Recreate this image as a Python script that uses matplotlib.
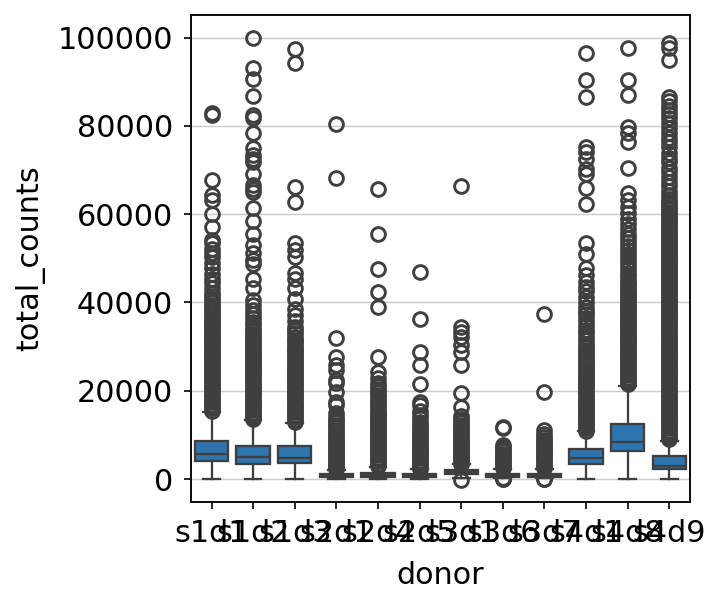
import matplotlib.pyplot as plt

donors = ["s1d1", "s1d2", "s1d3", "s2d1", "s2d4", "s2d5",
          "s3d1", "s3d6", "s3d7", "s4d1", "s4d8", "s4d9"]

# box summary (counts)
q1 = [4010, 3490, 3710, 400, 500, 450, 1100, 400, 400, 3490, 6270, 2350]
medians = [5660, 4910, 4840, 700, 950, 750, 1550, 800, 750, 4750, 8470, 3030]
q3 = [8540, 7470, 7400, 1100, 1450, 1150, 2050, 1250, 1200, 6880, 12540, 5140]
whisk_lo = [0, 0, 0, 0, 0, 0, 200, 300, 300, 0, 0, 0]
whisk_hi = [15300, 13300, 12800, 2100, 2800, 2200, 3400, 2400, 2300, 10800, 21000, 8700]

# outliers, in thousands of counts
out_s1d1 = [15.5, 16.0, 16.4, 16.9, 17.5, 18.0, 18.4, 18.9, 19.5, 20.0, 20.4, 20.9,
            21.5, 22.0, 22.6, 23.0, 23.5, 24.1, 24.5, 25.0, 25.6, 26.0, 26.5, 27.1,
            27.5, 28.0, 28.6, 29.0, 29.5, 30.1, 30.6, 31.0, 31.5, 32.1, 32.5, 33.0,
            33.6, 34.0, 34.6, 35.1, 35.5, 36.1, 36.6, 37.2, 37.8, 38.3, 38.9, 39.5,
            40.2, 40.8, 41.5, 42.2, 43.2, 44.4, 45.4, 46.5, 47.7, 49.0, 50.4, 51.3,
            52.2, 53.4, 54.1, 57.1, 60.0, 63.1, 64.3, 67.7, 82.5, 82.9]
out_s1d2 = [13.6, 14.1, 14.5, 15.0, 15.6, 16.0, 16.5, 17.1, 17.5, 18.0, 18.6, 19.0,
            19.5, 20.1, 20.5, 21.0, 21.6, 22.0, 22.5, 23.1, 23.5, 24.0, 24.6, 25.0,
            25.6, 26.1, 26.5, 27.0, 27.6, 28.0, 28.5, 29.1, 29.6, 30.1, 30.7, 31.2,
            31.8, 32.3, 32.9, 33.5, 34.1, 34.8, 35.5, 36.5, 37.4, 38.3, 39.4, 40.5,
            43.2, 45.4, 48.8, 49.7, 51.1, 53.0, 55.6, 58.4, 61.5, 65.1, 65.8, 66.6,
            69.2, 71.8, 72.5, 73.5, 74.9, 78.3, 81.7, 82.4, 86.8, 90.7, 93.0, 100.0]
out_s1d3 = [13.0, 13.5, 14.0, 14.5, 15.1, 15.5, 16.0, 16.6, 17.0, 17.5, 18.1, 18.5,
            19.0, 19.6, 20.0, 20.5, 21.1, 21.5, 22.0, 22.6, 23.0, 23.5, 24.1, 24.5,
            25.0, 25.6, 26.0, 26.5, 27.1, 27.6, 28.1, 28.7, 29.2, 29.8, 30.4, 31.0,
            31.6, 32.3, 33.0, 33.7, 34.4, 35.8, 37.1, 38.6, 40.9, 43.2, 45.4, 46.6,
            50.3, 51.8, 53.4, 62.8, 66.2, 94.3, 97.3]
out_s2d1 = [2.2, 2.7, 3.1, 3.6, 4.1, 4.5, 5.0, 5.5, 6.0, 6.4, 6.9, 7.4, 7.9, 8.4,
            8.9, 9.4, 10.0, 10.5, 11.1, 11.7, 12.3, 12.9, 13.5, 14.1, 15.0, 16.8,
            17.5, 19.8, 21.7, 22.4, 24.7, 25.8, 27.7, 32.0, 68.1, 80.4]
out_s2d4 = [3.0, 3.5, 4.0, 4.4, 4.9, 5.4, 5.9, 6.4, 6.8, 7.3, 7.8, 8.3, 8.8, 9.2,
            9.7, 10.2, 10.7, 11.2, 11.7, 12.2, 12.7, 13.2, 13.7, 14.2, 14.7, 15.3,
            15.9, 16.5, 17.1, 17.7, 18.3, 19.0, 19.7, 20.4, 21.1, 21.7, 22.8, 24.3,
            27.7, 39.0, 42.4, 47.5, 55.4, 65.6]
out_s2d5 = [2.3, 2.8, 3.2, 3.7, 4.2, 4.7, 5.1, 5.6, 6.1, 6.6, 7.0, 7.5, 8.0, 8.5,
            9.0, 9.5, 10.0, 10.5, 11.1, 11.7, 12.3, 13.0, 13.8, 14.6, 15.5, 16.8,
            17.5, 21.5, 25.8, 28.8, 36.2, 46.9]
out_s3d1 = [-0.3, 3.5, 4.0, 4.5, 5.0, 5.5, 6.0, 6.4, 6.9, 7.4, 7.9, 8.4, 8.9, 9.4,
            9.9, 10.5, 11.1, 11.7, 12.3, 13.0, 13.7, 14.2, 16.4, 19.5, 25.8, 28.8,
            30.3, 32.2, 33.4, 34.5, 66.3]
out_s3d6 = [0.0, 0.1, 0.2, 2.5, 3.0, 3.4, 3.9, 4.4, 4.9, 5.3, 5.8, 6.3, 6.8, 7.2,
            7.7, 11.6, 11.9]
out_s3d7 = [0.0, 0.1, 2.5, 3.0, 3.5, 4.0, 4.5, 5.0, 5.4, 5.9, 6.4, 6.9, 7.4, 7.9,
            8.4, 8.9, 9.5, 10.3, 11.1, 19.8, 37.4]
out_s4d1 = [11.0, 11.5, 12.0, 12.4, 12.9, 13.4, 13.9, 14.4, 14.8, 15.3, 15.8, 16.3,
            16.8, 17.2, 17.7, 18.2, 18.7, 19.2, 19.6, 20.1, 20.6, 21.1, 21.6, 22.1,
            22.6, 23.1, 23.6, 24.2, 24.7, 25.2, 25.8, 26.3, 26.9, 27.5, 28.1, 28.7,
            29.3, 29.9, 30.6, 31.4, 32.3, 33.0, 33.8, 34.7, 35.5, 36.4, 37.3, 38.0,
            39.0, 40.2, 41.3, 42.5, 43.6, 44.7, 46.2, 47.7, 50.9, 53.4, 62.2, 66.0,
            69.2, 70.3, 72.6, 74.1, 75.2, 86.6, 90.3, 96.4]
out_s4d8 = [21.5, 22.1, 22.5, 23.0, 23.6, 24.1, 24.5, 25.0, 25.6, 26.0, 26.5, 27.1,
            27.5, 28.0, 28.6, 29.0, 29.5, 30.1, 30.5, 31.0, 31.6, 32.0, 32.5, 33.1,
            33.5, 34.0, 34.6, 35.0, 35.5, 36.1, 36.5, 37.0, 37.6, 38.0, 38.5, 39.1,
            39.5, 40.0, 40.6, 41.0, 41.6, 42.1, 42.7, 43.3, 43.9, 44.5, 45.2, 45.9,
            46.6, 47.6, 48.5, 49.3, 50.2, 51.0, 51.9, 52.8, 53.8, 54.7, 55.6, 56.6,
            57.8, 59.0, 60.3, 61.6, 63.1, 64.7, 70.5, 76.4, 78.3, 79.8, 86.9, 90.3,
            97.7]
out_s4d9 = [9.0, 9.5, 10.0, 10.4, 10.9, 11.5, 12.0, 12.4, 12.9, 13.5, 14.0, 14.4,
            14.9, 15.5, 16.0, 16.4, 16.9, 17.5, 18.0, 18.4, 18.9, 19.5, 20.0, 20.4,
            20.9, 21.5, 22.0, 22.4, 22.9, 23.5, 24.0, 24.4, 24.9, 25.5, 26.0, 26.4,
            26.9, 27.5, 28.0, 28.4, 28.9, 29.5, 30.0, 30.4, 30.9, 31.5, 32.0, 32.4,
            32.9, 33.5, 34.0, 34.4, 34.9, 35.5, 36.0, 36.4, 36.9, 37.5, 38.0, 38.4,
            38.9, 39.5, 40.0, 40.4, 40.9, 41.5, 42.0, 42.4, 42.9, 43.5, 44.0, 44.4,
            44.9, 45.5, 46.0, 46.4, 46.9, 47.5, 48.0, 48.4, 48.9, 49.5, 50.0, 50.4,
            50.9, 51.5, 52.0, 52.4, 52.9, 53.5, 54.0, 54.4, 54.9, 55.5, 56.0, 56.4,
            56.9, 57.5, 58.0, 58.4, 58.9, 59.5, 60.0, 60.5, 61.1, 61.7, 62.3, 62.8,
            63.5, 64.3, 65.2, 66.3, 67.3, 68.4, 69.6, 70.5, 71.7, 72.8, 73.9, 75.1,
            76.3, 77.2, 78.3, 79.4, 80.6, 81.7, 82.6, 83.6, 84.5, 85.6, 86.6, 95.0,
            97.7, 98.7]

outliers = [out_s1d1, out_s1d2, out_s1d3, out_s2d1, out_s2d4, out_s2d5,
            out_s3d1, out_s3d6, out_s3d7, out_s4d1, out_s4d8, out_s4d9]

stats = []
for i, d in enumerate(donors):
    stats.append(dict(label=d, med=medians[i], q1=q1[i], q3=q3[i],
                      whislo=whisk_lo[i], whishi=whisk_hi[i],
                      fliers=[v * 1000 for v in outliers[i]]))

line_col = "#3f3f3f"
box_col = "#2e75b0"

fig = plt.figure(figsize=(723 / 150, 604 / 150), dpi=150)
ax = fig.add_axes([0.2638, 0.1694, 0.6906, 0.8058])

ax.bxp(stats, positions=range(len(donors)), widths=0.8, capwidths=0.4,
       patch_artist=True,
       boxprops=dict(facecolor=box_col, edgecolor=line_col, linewidth=1.1),
       whiskerprops=dict(color=line_col, linewidth=1.1),
       capprops=dict(color=line_col, linewidth=1.1),
       medianprops=dict(color=line_col, linewidth=1.1),
       flierprops=dict(marker="o", markerfacecolor="none", markeredgecolor=line_col,
                       markersize=6.6, markeredgewidth=1.4))

ax.yaxis.grid(True, color="#cccccc", linewidth=0.7)
ax.set_axisbelow(True)

ax.set_xlim(-0.5, len(donors) - 0.5)
ax.set_ylim(-5100, 105100)
ax.set_yticks([0, 20000, 40000, 60000, 80000, 100000])
ax.set_xticks(range(len(donors)))
ax.set_xticklabels(donors)
ax.tick_params(labelsize=14.5, length=3.5, width=0.8, pad=5)
for s in ax.spines.values():
    s.set_linewidth(0.9)

ax.set_xlabel("donor", fontsize=14.5, labelpad=6)
ax.set_ylabel("total_counts", fontsize=14.5, labelpad=6)

fig.savefig("out.png", dpi=150)
